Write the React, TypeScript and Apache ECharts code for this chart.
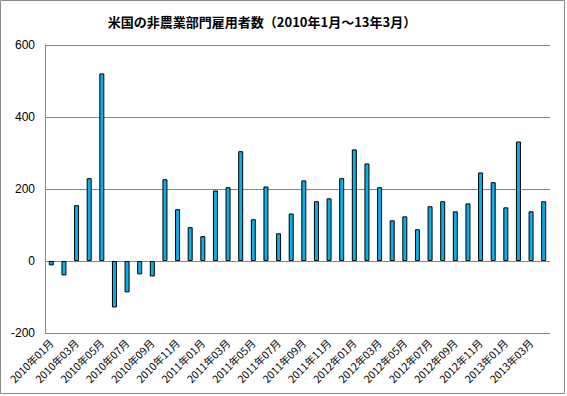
import React, { useEffect, useRef } from "react";
import * as echarts from "echarts";

const categories = [
  "2010年01月", "2010年02月", "2010年03月", "2010年04月", "2010年05月", "2010年06月",
  "2010年07月", "2010年08月", "2010年09月", "2010年10月", "2010年11月", "2010年12月",
  "2011年01月", "2011年02月", "2011年03月", "2011年04月", "2011年05月", "2011年06月",
  "2011年07月", "2011年08月", "2011年09月", "2011年10月", "2011年11月", "2011年12月",
  "2012年01月", "2012年02月", "2012年03月", "2012年04月", "2012年05月", "2012年06月",
  "2012年07月", "2012年08月", "2012年09月", "2012年10月", "2012年11月", "2012年12月",
  "2013年01月", "2013年02月", "2013年03月", "2013年04月",
];

const payrolls = [
  -12, -40, 155, 230, 521, -129, -87, -37, -43, 227, 144, 94,
  69, 196, 205, 305, 116, 207, 77, 132, 224, 166, 174, 230,
  310, 271, 205, 113, 124, 88, 152, 166, 138, 160, 246, 219,
  149, 332, 138, 166,
];

const title = "米国の非農業部門雇用者数（2010年1月～13年3月）";

export default function App() {
  const ref = useRef<HTMLDivElement>(null);
  useEffect(() => {
    document.body.style.margin = "0";
    const chart = echarts.init(ref.current!, null, { renderer: "svg" });
    chart.setOption({
      animation: false,
      backgroundColor: "#fff",
      title: {
        text: title,
        left: 257,
        textAlign: "center",
        top: 10,
        textStyle: {
          fontFamily: "Noto Sans CJK JP",
          fontSize: 13,
          fontWeight: "bold",
          color: "#000",
        },
      },
      graphic: [
        {
          type: "rect",
          shape: { x: 0.5, y: 0.5, width: 564, height: 393 },
          style: { fill: "none", stroke: "#8a8a8a", lineWidth: 1 },
          silent: true,
        },
      ],
      grid: { left: 45, right: 17, top: 45, bottom: 63, containLabel: false },
      xAxis: {
        type: "category",
        data: categories,
        boundaryGap: true,
        axisLine: { show: false, onZero: false },
        axisTick: { show: false },
        axisLabel: {
          interval: 1,
          rotate: 45,
          margin: 8,
          fontFamily: "Noto Sans CJK JP",
          fontSize: 10.5,
          color: "#000",
        },
      },
      yAxis: {
        type: "value",
        min: -200,
        max: 600,
        interval: 200,
        axisLine: { show: true, lineStyle: { color: "#868686", width: 1 } },
        axisTick: { show: false },
        axisLabel: {
          margin: 10,
          fontFamily: "Liberation Sans",
          fontSize: 12,
          color: "#000",
        },
        splitLine: { show: true, lineStyle: { color: "#868686", width: 1 } },
      },
      series: [
        {
          type: "bar",
          data: payrolls,
          barWidth: 5,
          itemStyle: { color: "#0AAEE8", borderColor: "#000", borderWidth: 1 },
        },
      ],
    });
    return () => chart.dispose();
  }, []);
  return <div ref={ref} style={{ width: 567, height: 396 }} />;
}
